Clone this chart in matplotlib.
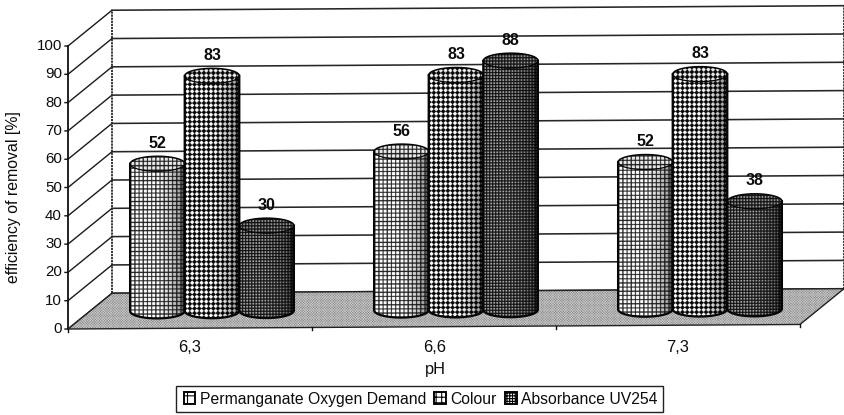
import numpy as np
import matplotlib
matplotlib.use("Agg")
import matplotlib.pyplot as plt
from matplotlib.path import Path
from matplotlib.patches import Polygon, Rectangle, PathPatch
from matplotlib.transforms import Affine2D
from matplotlib.legend_handler import HandlerBase

plt.rcParams['font.family'] = ['Liberation Sans', 'DejaVu Sans']
plt.rcParams['hatch.linewidth'] = 0.8

categories = ['6,3', '6,6', '7,3']
series_names = ['Permanganate Oxygen Demand', 'Colour', 'Absorbance UV254']
pom_values = [52, 56, 52]
colour_values = [83, 83, 83]
uv_values = [30, 88, 38]
yticks = list(range(0, 101, 10))

W, H = 845, 415
PX_X = 244.0          # pixels per category
PX_Y = 2.83           # pixels per percent
X0_PX, Y0_PX = 190.0, 329.0
TILT = 0.0062
TILT_BAR = 0.0035
DEPTH_X, DEPTH_Y = 44 / PX_X, 35.5 / PX_Y    # depth vector in data units
BAR_W = 54.6 / PX_X
ELL = 7.5 / PX_Y
TEXT = '#0c0c0c'

fig = plt.figure(figsize=(W / 100, H / 100), dpi=100)
ax = fig.add_axes([0, 0, 1, 1])
ax.set_xlim((0 - X0_PX) / PX_X, (W - X0_PX) / PX_X)
ax.set_ylim(-(H - Y0_PX) / PX_Y, Y0_PX / PX_Y)
ax.axis('off')


def sheared(t):
    # the scan is very slightly rotated: shear around the front-left corner
    return (ax.transData + Affine2D().translate(-68, -(H - Y0_PX))
            .skew(0, np.arctan(t)).translate(68, H - Y0_PX))


tr = sheared(TILT)
trb = sheared(TILT_BAR)

L, R = -0.5, 2.5   # category axis ends
GRID = '#262626'


def texture(kind, xs, ys):
    """Print-like fill patterns; xs, ys are pixel grids."""
    if kind == 'grid':
        p = 4.15
        d = np.minimum(np.mod(xs, p), np.mod(ys, p))
        return np.where(d < 1.1, 0.10, 1.0)
    if kind == 'dots':
        p = 4.65
        c = np.cos(2 * np.pi * xs / p) + np.cos(2 * np.pi * ys / p)
        return np.where(c > -0.1, 0.03, 1.0)
    if kind == 'dense':
        p = 3.0
        d = np.minimum(np.mod(xs, p), np.mod(ys, p))
        return np.where(d < 1.1, 0.06, 0.66)
    c = np.cos(2 * np.pi * xs / 2.6) * np.cos(2 * np.pi * ys / 2.6)   # floor stipple
    return np.where(c > 0.15, 0.45, 0.82)


def textured(path, kind, x0, x1, y0, y1, shade=None, z=2.0, lift=1.0, trans=None):
    trans = trans or tr
    ss = 4
    nx = max(int((x1 - x0) * PX_X * ss), 2)
    ny = max(int((y1 - y0) * PX_Y * ss), 2)
    xs, ys = np.meshgrid(np.arange(nx) / ss, np.arange(ny) / ss)
    img = texture(kind, xs, ys) * lift
    if shade is not None:
        img = img * shade(xs / (nx / ss))
    im = ax.imshow(np.clip(img, 0, 1), extent=(x0, x1, y0, y1), origin='lower', cmap='gray',
                   vmin=0, vmax=1, aspect='auto', interpolation='antialiased',
                   zorder=z, transform=trans)
    im.set_clip_path(PathPatch(path, transform=trans))
    return im


# walls: back wall, side wall, grid
bx0, bx1 = L + DEPTH_X, R + DEPTH_X
for v in yticks:
    ax.plot([bx0, bx1], [v + DEPTH_Y] * 2, color=GRID, lw=1.15, transform=tr, zorder=1)
    ax.plot([L, bx0], [v, v + DEPTH_Y], color='#1a1a1a', lw=1.0, transform=tr, zorder=1)
    ax.plot([L - 3 / PX_X, L], [v, v], color='#111111', lw=1.0, transform=tr, zorder=1)
ax.plot([bx0, bx0], [DEPTH_Y, 100 + DEPTH_Y], color=GRID, lw=1.3, ls=(0, (1.2, 0.5)), transform=tr, zorder=1)
ax.plot([bx1, bx1], [DEPTH_Y, 100 + DEPTH_Y], color=GRID, lw=1.3, ls=(0, (1.2, 0.5)), transform=tr, zorder=1)
ax.plot([L, L], [0, 100], color='#111111', lw=1.3, transform=tr, zorder=1.5)

# floor
floor_pts = [(L, 0), (R, 0), (bx1, DEPTH_Y), (bx0, DEPTH_Y)]
floor_path = Path(floor_pts + [floor_pts[0]], closed=True)
textured(floor_path, 'floor', L, bx1, 0, DEPTH_Y, z=1.6)
ax.add_patch(Polygon(floor_pts, closed=True, fill=False, edgecolor='#222222', lw=1.0, transform=tr, zorder=1.7))
for i in range(4):
    t = L + i
    ax.plot([t, t], [0, -3 / PX_Y], color='#111111', lw=1.0, transform=tr, zorder=1.7)


def side_shade(u):
    return np.clip(1.04 - 0.5 * np.clip((u - 0.35) / 0.65, 0, 1) ** 1.6
                   - 0.45 * np.clip((u - 0.9) / 0.1, 0, 1), 0.05, 1.05)


def top_shade(u):
    return np.full_like(u, 0.97)


def cylinder(xc, base, value, kind, z):
    hw = BAR_W / 2
    bar = ax.bar([xc], [value], width=BAR_W, bottom=base, color='white', linewidth=0,
                 transform=trb, zorder=z)[0]
    th = np.linspace(np.pi, 2 * np.pi, 40)
    low_x, low_y = xc + hw * np.cos(th), base + ELL * np.sin(th)
    top_y = base + value
    th2 = np.linspace(0, np.pi, 40)
    up_x, up_y = xc + hw * np.cos(th2), top_y + ELL * np.sin(th2)
    pts = np.column_stack([np.r_[low_x, up_x], np.r_[low_y, up_y]])
    path = Path(np.r_[pts, pts[:1]], closed=True)
    textured(path, kind, xc - hw, xc + hw, base - ELL, top_y + ELL, side_shade, z=z + .1, trans=trb)
    fr_x, fr_y = xc + hw * np.cos(th), top_y + ELL * np.sin(th)
    top = np.column_stack([np.r_[fr_x, up_x], np.r_[fr_y, up_y]])
    tpath = Path(np.r_[top, top[:1]], closed=True)
    textured(tpath, kind, xc - hw, xc + hw, top_y - ELL, top_y + ELL, top_shade, z=z + .2, lift=0.95, trans=trb)
    ax.plot(np.r_[xc - hw, low_x, xc + hw], np.r_[top_y, low_y, top_y], color='#050505', lw=1.6,
            transform=trb, zorder=z + .3, solid_joinstyle='round')
    ax.plot(up_x, up_y, color='#050505', lw=1.1, transform=trb, zorder=z + .3)
    ax.plot(fr_x, fr_y, color='#050505', lw=0.9, transform=trb, zorder=z + .3)
    return bar


kinds = ['grid', 'dots', 'dense']
all_series = [pom_values, colour_values, uv_values]
group_dx = DEPTH_X / 2
group_base = DEPTH_Y / 2
z = 3
for gi in range(len(categories)):
    for si, (kind, vals) in enumerate(zip(kinds, all_series)):
        xc = gi + group_dx + (si - 1) * BAR_W
        v = vals[gi]
        cylinder(xc, group_base, v, kind, z)
        z += 1
        ax.text(xc, group_base + v + ELL + 1.9, str(v), ha='center', va='bottom', fontsize=11.5,
                fontweight='bold', color=TEXT, transform=trb, zorder=20)

# axis text
for v in yticks:
    ax.text(L - 6 / PX_X, v, str(v), ha='right', va='center', fontsize=10.8, color=TEXT, transform=tr)
for x_px, c in zip([190, 435, 678], categories):
    ax.text(x_px / W, 1 - 347 / H, c, ha='center', va='center', fontsize=11.8, color=TEXT, transform=ax.transAxes)
ax.text(435 / W, 1 - 369 / H, 'pH', ha='center', va='center', fontsize=11.8, color=TEXT, transform=ax.transAxes)
ax.text(14 / W, 1 - 197 / H, 'efficiency of removal [%]', rotation=90, ha='center', va='center',
        fontsize=11.4, color=TEXT, transform=ax.transAxes)


# legend
class SwatchHandler(HandlerBase):
    def create_artists(self, legend, orig, xd, yd, width, height, fontsize, trans):
        s = min(width, height) * 1.05
        r = Rectangle((-xd + width - s, -yd), s, s, facecolor='white', edgecolor='#050505',
                      lw=1.4, hatch=orig.get_hatch(), transform=trans)
        return [r]


handles = [Rectangle((0, 0), 1, 1, hatch=h, facecolor='white', edgecolor='k') for h in ['++', '+++', '++++++']]
leg = ax.legend(handles, series_names, ncol=3, loc='center', bbox_to_anchor=(419.5 / W, 1 - 399 / H),
                bbox_transform=ax.transAxes, fontsize=11.3, frameon=True, fancybox=False, framealpha=1,
                edgecolor='#222222', handler_map={Rectangle: SwatchHandler()}, handlelength=0.9,
                handletextpad=0.3, columnspacing=0.35, borderpad=0.32, borderaxespad=0,
                labelcolor=TEXT)
leg.get_frame().set_linewidth(1.0)
leg.set_zorder(30)

fig.savefig('out.png', dpi=100)
